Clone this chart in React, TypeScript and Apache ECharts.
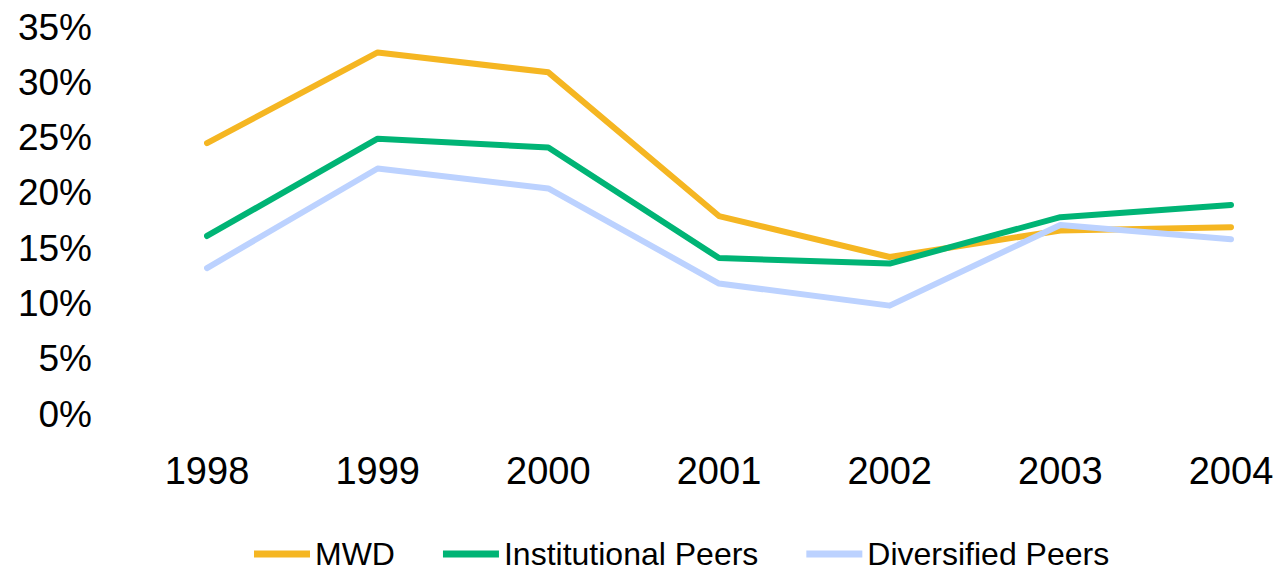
import React, { useEffect, useRef } from "react";
import * as echarts from "echarts";

const years = ["1998", "1999", "2000", "2001", "2002", "2003", "2004"];
const mwd = [24.5, 32.7, 30.9, 17.9, 14.2, 16.6, 16.9];
const institutionalPeers = [16.1, 24.9, 24.1, 14.1, 13.6, 17.8, 18.9];
const diversifiedPeers = [13.2, 22.2, 20.4, 11.8, 9.8, 17.1, 15.8];

const FONT = "'Liberation Sans', Arial, sans-serif";

export default function App() {
  const ref = useRef<HTMLDivElement>(null);
  useEffect(() => {
    if (!ref.current) return;
    const chart = echarts.init(ref.current, undefined, { renderer: "svg" });
    const mk = (name: string, data: number[], color: string) => ({
      name,
      type: "line",
      data,
      symbol: "none",
      showSymbol: false,
      lineStyle: { width: 6, color, cap: "round", join: "round" },
      itemStyle: { color },
    });
    chart.setOption({
      animation: false,
      textStyle: { fontFamily: FONT },
      grid: { left: 207, right: 48, top: 27, bottom: 158, containLabel: false, outerBoundsMode: "none" },
      xAxis: {
        type: "category",
        data: years,
        boundaryGap: false,
        axisLine: { show: false },
        axisTick: { show: false },
        splitLine: { show: false },
        axisLabel: { color: "#000", fontSize: 38, fontFamily: FONT, margin: 38 },
      },
      yAxis: {
        type: "value",
        min: 0,
        max: 35,
        interval: 5,
        axisLine: { show: false },
        axisTick: { show: false },
        splitLine: { show: false },
        axisLabel: {
          color: "#000",
          fontSize: 37,
          fontFamily: FONT,
          margin: 115,
          formatter: (v: number) => `${v}%`,
        },
      },
      legend: {
        top: 538,
        left: 254,
        padding: 0,
        icon: "rect",
        itemWidth: 56,
        itemHeight: 7,
        itemGap: 48,
        textStyle: { color: "#000", fontSize: 32, lineHeight: 30, fontFamily: FONT },
        data: ["MWD", "Institutional Peers", "Diversified Peers"],
      },
      series: [
        mk("MWD", mwd, "#F5B622"),
        mk("Institutional Peers", institutionalPeers, "#00B475"),
        mk("Diversified Peers", diversifiedPeers, "#BCD2FF"),
      ],
    });
    return () => chart.dispose();
  }, []);
  return (
    <div
      ref={ref}
      style={{ width: 1279, height: 572, position: "absolute", left: 0, top: 0 }}
    />
  );
}
